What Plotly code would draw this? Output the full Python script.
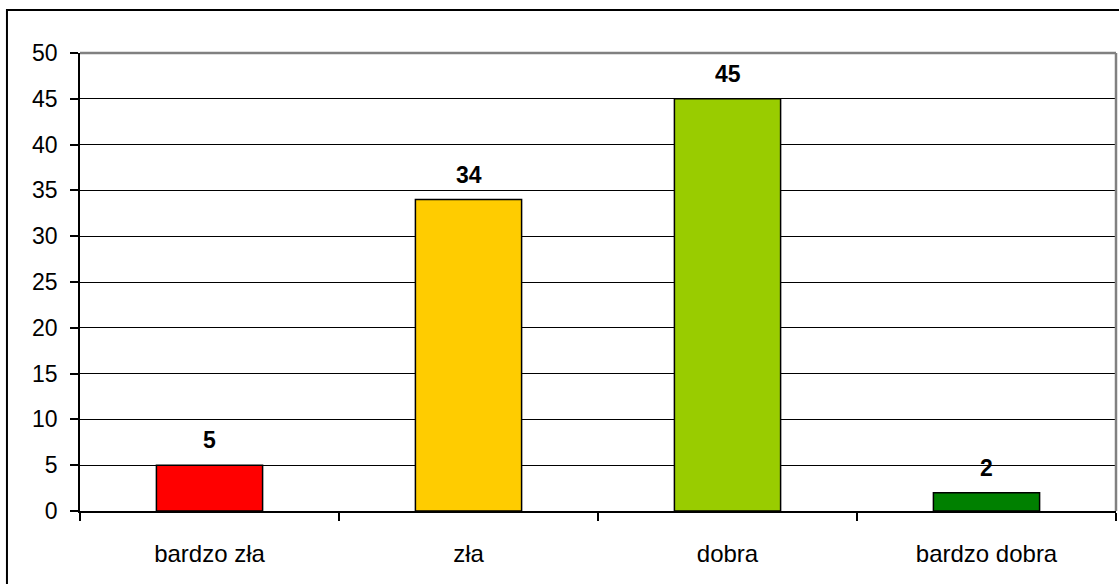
import plotly.graph_objects as go

# Data
categories = ["bardzo zła", "zła", "dobra", "bardzo dobra"]
counts = [5, 34, 45, 2]
bar_colors = ["#FF0000", "#FFCC00", "#99CC00", "#008000"]
y_ticks = [0, 5, 10, 15, 20, 25, 30, 35, 40, 45, 50]

font_family = "Liberation Sans, Arial, sans-serif"

fig = go.Figure(
    go.Bar(
        x=categories,
        y=counts,
        marker=dict(color=bar_colors, line=dict(color="black", width=1.5)),
        width=0.41,
        hoverinfo="x+y",
    )
)

# value labels above bars
for cat, val in zip(categories, counts):
    fig.add_annotation(
        x=cat, y=val, text="<b>%d</b>" % val, showarrow=False,
        yanchor="bottom", yshift=10,
        font=dict(family=font_family, size=23, color="black"),
    )

# outer chart border and grey plot-area top/right edges
fig.add_shape(type="rect", xref="paper", yref="paper",
              x0=-0.0705, x1=1.05, y0=-0.3, y1=1.094,
              line=dict(color="black", width=2))
fig.add_shape(type="line", xref="paper", yref="paper",
              x0=0, x1=1, y0=1, y1=1, line=dict(color="#808080", width=2.5))
fig.add_shape(type="line", xref="paper", yref="paper",
              x0=1, x1=1, y0=0, y1=1, line=dict(color="#808080", width=2.5))

fig.update_layout(
    width=1119,
    height=584,
    margin=dict(l=80, r=3, t=53, b=73),
    plot_bgcolor="white",
    paper_bgcolor="white",
    font=dict(family=font_family, size=23, color="black"),
    showlegend=False,
)
fig.update_xaxes(
    type="category",
    tickson="boundaries",
    ticks="outside",
    ticklen=8,
    tickcolor="black",
    tickwidth=1.5,
    showline=True,
    linecolor="black",
    linewidth=1.5,
    showgrid=False,
    ticklabelstandoff=20,
    tickfont=dict(size=24),
)
fig.update_yaxes(
    range=[0, 50],
    tickvals=y_ticks,
    ticks="outside",
    ticklen=8,
    tickcolor="black",
    tickwidth=1.5,
    showline=True,
    linecolor="black",
    linewidth=1.5,
    showgrid=True,
    gridcolor="black",
    gridwidth=1,
    zeroline=False,
    ticklabelstandoff=8,
    tickfont=dict(size=23),
)

# drop the default page margin so the figure fills the window exactly
fig.write_html(
    "out.html",
    config={"displayModeBar": False},
    post_script="document.body.style.margin='0';document.body.style.overflow='hidden';",
)
